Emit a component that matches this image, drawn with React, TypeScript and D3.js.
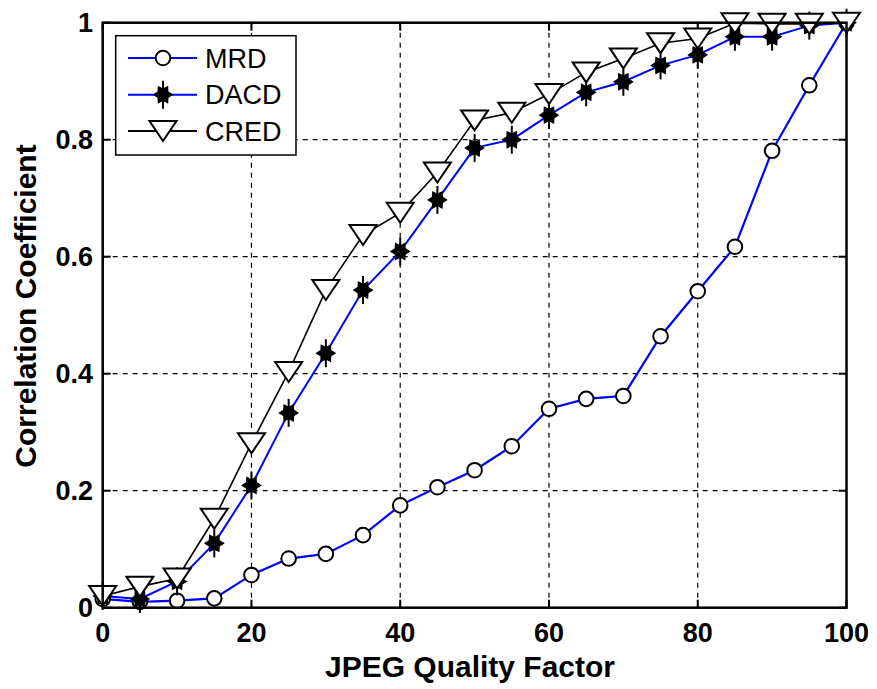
import React from "react";
import * as d3 from "d3";

const quality = [0, 5, 10, 15, 20, 25, 30, 35, 40, 45, 50, 55, 60, 65, 70, 75, 80, 85, 90, 95, 100];
const mrd = [0.015, 0.01, 0.012, 0.016, 0.056, 0.084, 0.092, 0.124, 0.175, 0.206, 0.235, 0.276, 0.34, 0.357, 0.362, 0.464, 0.541, 0.617, 0.781, 0.893, 1.0];
const dacd = [0.02, 0.015, 0.045, 0.11, 0.209, 0.333, 0.435, 0.543, 0.609, 0.697, 0.786, 0.8, 0.842, 0.881, 0.899, 0.927, 0.945, 0.976, 0.976, 0.995, 1.0];
const cred = [0.02, 0.036, 0.05, 0.152, 0.281, 0.403, 0.543, 0.637, 0.675, 0.744, 0.833, 0.846, 0.878, 0.915, 0.939, 0.965, 0.973, 0.999, 0.998, 0.998, 1.0];
const xTicks = [0, 20, 40, 60, 80, 100];
const yTicks = [0, 0.2, 0.4, 0.6, 0.8, 1];
const yTickLabels = ["0", "0.2", "0.4", "0.6", "0.8", "1"];
const seriesNames = ["MRD", "DACD", "CRED"];

const W = 877, H = 689;
const L = 102.7, R = 846.5, T = 22.7, B = 607.7;
const FONT = "'Liberation Sans', Arial, Helvetica, sans-serif";

function Circle({ cx, cy }: { cx: number; cy: number }) {
  return <circle cx={cx} cy={cy} r={7.3} fill="#fff" stroke="#000" strokeWidth={2} />;
}

function Tri({ cx, cy }: { cx: number; cy: number }) {
  const w = 13.5, h = 10;
  const p = `${cx - w},${cy - h} ${cx + w},${cy - h} ${cx},${cy + h}`;
  return <polygon points={p} fill="#fff" stroke="#000" strokeWidth={2} strokeLinejoin="miter" />;
}

function Star({ cx, cy }: { cx: number; cy: number }) {
  const pts: string[] = [];
  const ro = 9, ri = 5.5;
  for (let i = 0; i < 12; i++) {
    const a = (i * Math.PI) / 6;
    const r = i % 2 === 0 ? ro : ri;
    pts.push(`${cx + r * Math.cos(a)},${cy + r * Math.sin(a)}`);
  }
  return (
    <g>
      <polygon points={pts.join(" ")} fill="#000" stroke="#000" strokeWidth={1.5} />
      <line x1={cx} x2={cx} y1={cy - 14} y2={cy + 14} stroke="#000" strokeWidth={2} />
    </g>
  );
}

export default function App() {
  const x = d3.scaleLinear().domain([0, 100]).range([L, R]);
  const y = d3.scaleLinear().domain([0, 1]).range([B, T]);
  const line = (vals: number[]) =>
    d3.line<number>().x((_, i) => x(quality[i])).y((v) => y(v))(vals) || "";

  const legendRows = [58, 94.7, 131];

  return (
    <svg width={W} height={H} style={{ position: "absolute", left: 0, top: 0, background: "#fff" }}>
      <rect x={0} y={0} width={W} height={H} fill="#fff" />
      {xTicks.slice(1, -1).map((t) => (
        <line key={"gx" + t} x1={x(t)} x2={x(t)} y1={T} y2={B} stroke="#000" strokeWidth={1.2} strokeDasharray="5,5" />
      ))}
      {yTicks.slice(1, -1).map((t) => (
        <line key={"gy" + t} x1={L} x2={R} y1={y(t)} y2={y(t)} stroke="#000" strokeWidth={1.2} strokeDasharray="5,5" />
      ))}
      {xTicks.map((t) => (
        <g key={"tx" + t}>
          <line x1={x(t)} x2={x(t)} y1={B} y2={B - 8} stroke="#000" strokeWidth={2} />
          <line x1={x(t)} x2={x(t)} y1={T} y2={T + 8} stroke="#000" strokeWidth={2} />
        </g>
      ))}
      {yTicks.map((t) => (
        <g key={"ty" + t}>
          <line x1={L} x2={L + 8} y1={y(t)} y2={y(t)} stroke="#000" strokeWidth={2} />
          <line x1={R} x2={R - 8} y1={y(t)} y2={y(t)} stroke="#000" strokeWidth={2} />
        </g>
      ))}
      <path d={line(mrd)} fill="none" stroke="#0000ff" strokeWidth={2.2} />
      {mrd.map((v, i) => <Circle key={"m" + i} cx={x(quality[i])} cy={y(v)} />)}
      <path d={line(dacd)} fill="none" stroke="#0000ff" strokeWidth={2} />
      {dacd.map((v, i) => <Star key={"d" + i} cx={x(quality[i])} cy={y(v)} />)}
      <path d={line(cred)} fill="none" stroke="#000" strokeWidth={1.6} />
      {cred.map((v, i) => <Tri key={"c" + i} cx={x(quality[i])} cy={y(v)} />)}
      <rect x={L} y={T} width={R - L} height={B - T} fill="none" stroke="#000" strokeWidth={2.5} />
      {xTicks.map((t) => (
        <text key={"lx" + t} x={x(t)} y={642} textAnchor="middle" fontFamily={FONT} fontWeight="bold" fontSize={27}>
          {t}
        </text>
      ))}
      {yTicks.map((t, i) => (
        <text key={"ly" + t} x={93} y={y(t)} dy="0.36em" textAnchor="end" fontFamily={FONT} fontWeight="bold" fontSize={27}>
          {yTickLabels[i]}
        </text>
      ))}
      <text x={470} y={677} textAnchor="middle" fontFamily={FONT} fontWeight="bold" fontSize={30}>
        JPEG Quality Factor
      </text>
      <text transform={`translate(36,306) rotate(-90)`} textAnchor="middle" fontFamily={FONT} fontWeight="bold" fontSize={30}>
        Correlation Coefficient
      </text>
      <rect x={115.7} y={35.7} width={180.3} height={119.3} fill="#fff" stroke="#000" strokeWidth={1.5} />
      {seriesNames.map((name, i) => {
        const cy = legendRows[i];
        const color = i === 2 ? "#000" : "#0000ff";
        return (
          <g key={name}>
            <line x1={128} x2={197} y1={cy} y2={cy} stroke={color} strokeWidth={2} />
            {i === 0 && <Circle cx={163} cy={cy} />}
            {i === 1 && <Star cx={163} cy={cy} />}
            {i === 2 && <Tri cx={163} cy={cy} />}
            <text x={205} y={cy + 9.5} fontFamily={FONT} fontSize={27}>
              {name}
            </text>
          </g>
        );
      })}
    </svg>
  );
}
